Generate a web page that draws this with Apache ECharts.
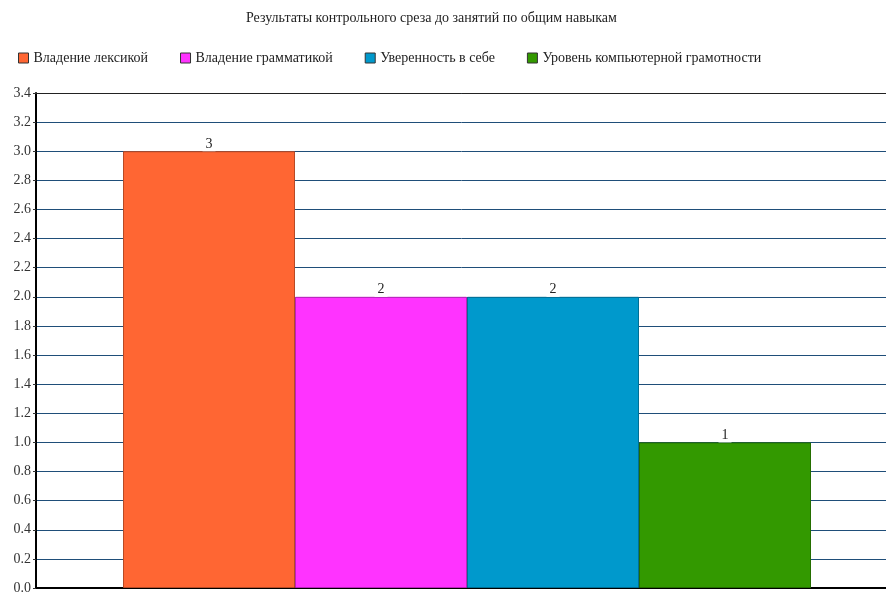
<!DOCTYPE html>
<html><head><meta charset="utf-8">
<script src="https://cdn.jsdelivr.net/npm/echarts@6/dist/echarts.min.js"></script>
<style>html,body{margin:0;padding:0;background:#fff}#c{width:886px;height:592px}</style>
</head><body><div id="c"></div>
<script>
const titleText = 'Результаты контрольного среза до занятий по общим навыкам';
const categories = [''];
const seriesNames = ['Владение лексикой', 'Владение грамматикой', 'Уверенность в себе', 'Уровень компьютерной грамотности'];
const seriesValues = [[3], [2], [2], [1]];
const colors = ['#ff6633', '#ff33ff', '#0099cc', '#339900'];
const borders = ['#b84a25', '#b825b8', '#006f94', '#246e00'];

const font = '"Liberation Serif", "DejaVu Serif", serif';
const chart = echarts.init(document.getElementById('c'));
chart.setOption({
  animation: false,
  title: { text: titleText, left: 241, top: 6,
    textStyle: { fontFamily: font, fontSize: 14, fontWeight: 'normal', color: '#222' } },
  legend: { left: 13, top: 46, itemWidth: 10, itemHeight: 10, itemGap: 32,
    icon: 'rect',
    textStyle: { fontFamily: font, fontSize: 14, color: '#222' },
    data: seriesNames.map((n,i)=>({name:n, itemStyle:{borderColor:'#333', borderWidth:1}})) },
  grid: { left: 36, width: 862, top: 93, height: 495, containLabel: false, outerBoundsMode: 'none' },
  xAxis: [{ type: 'category', data: categories,
    axisLine: { lineStyle: { color: '#000', width: 2 } }, axisTick: { show: false },
    axisLabel: { show: false } },
    { type: 'category', data: categories, position: 'top',
    axisLine: { lineStyle: { color: '#222', width: 1 } }, axisTick: { show: false },
    axisLabel: { show: false } }],
  yAxis: { type: 'value', min: 0, max: 3.4, interval: 0.2,
    axisLine: { show: true, lineStyle: { color: '#000', width: 2 } },
    axisTick: { show: true, length: 3, lineStyle: { color: '#333' } },
    axisLabel: { fontFamily: font, fontSize: 14, color: '#333', margin: 5,
      formatter: v => v.toFixed(1) },
    splitLine: { lineStyle: { color: '#1f4e79', width: 1 } } },
  series: seriesNames.map((n,i)=>({
    name: n, type: 'bar', data: seriesValues[i], barWidth: 172, barGap: '0%',
    itemStyle: { color: colors[i], borderColor: borders[i], borderWidth: 1 },
    label: { show: true, position: 'top', distance: 0, fontFamily: font, fontSize: 14,
      color: '#222', backgroundColor: '#fff', padding: [0, 3, 0, 3] }
  }))
});
</script></body></html>
